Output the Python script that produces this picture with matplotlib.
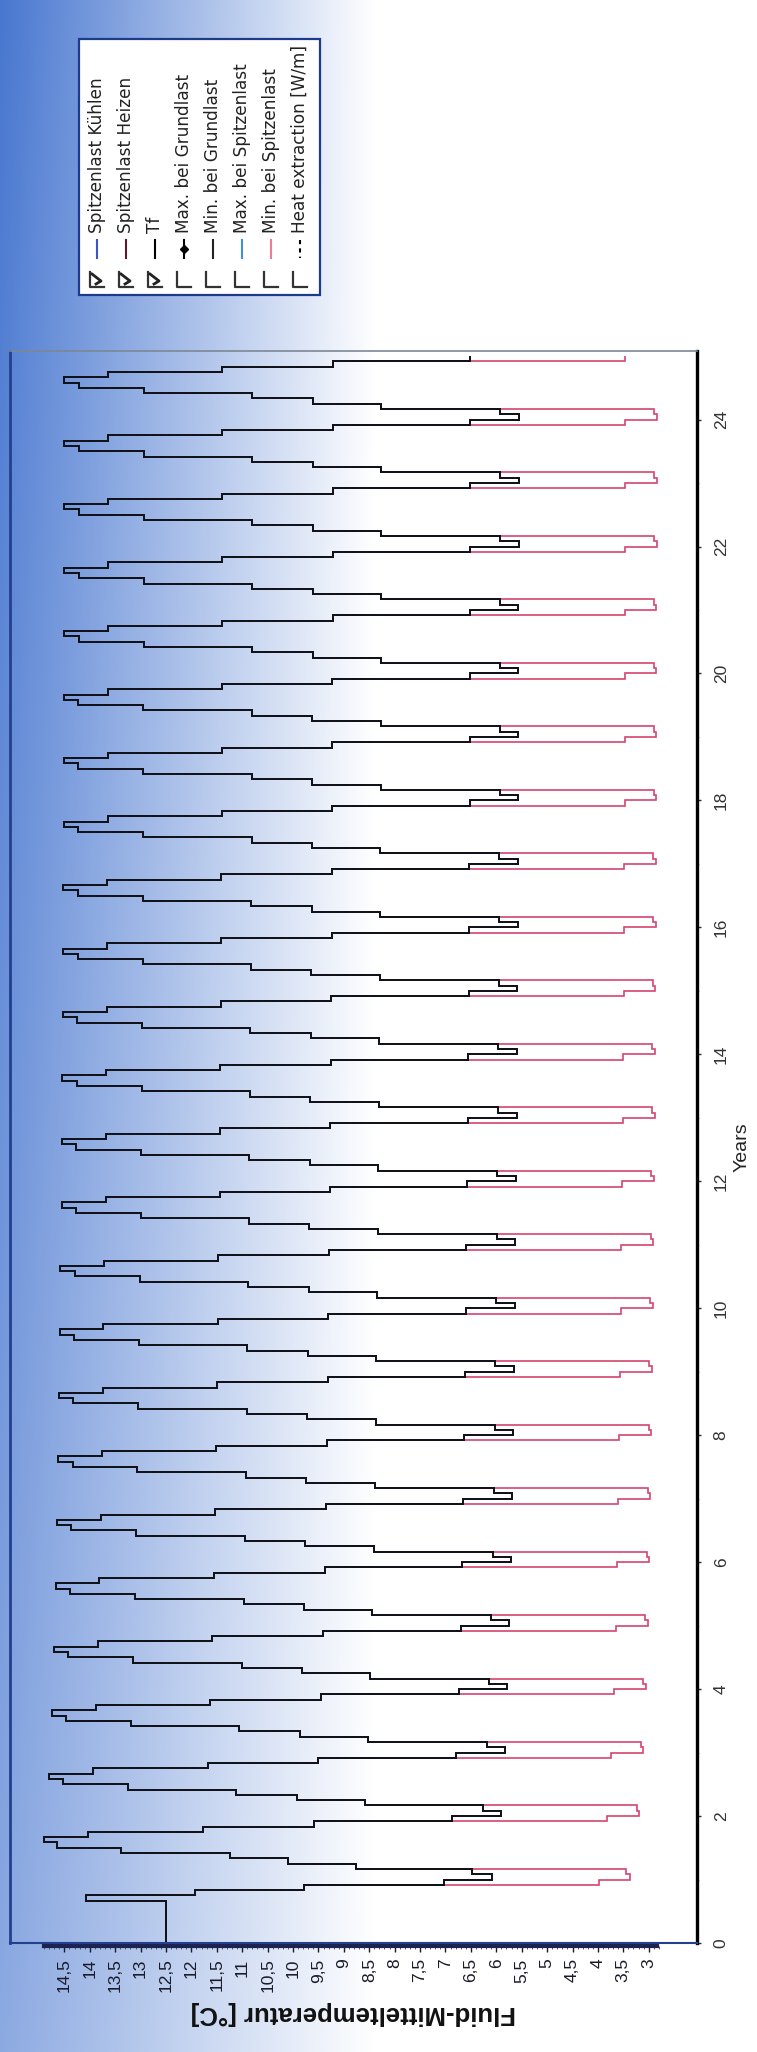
import numpy as np
import matplotlib
matplotlib.use('Agg')
import matplotlib.pyplot as plt
from matplotlib.lines import Line2D
from matplotlib.patches import Rectangle
from matplotlib.transforms import Affine2D

plt.rcParams['font.family'] = ['Liberation Sans', 'DejaVu Sans']

# monthly mean fluid temperature Tf, one list per month of the simulation year, years 1..25
tf_month1 = [12.5, 6.08, 5.91, 5.83, 5.78, 5.74, 5.71, 5.69, 5.67, 5.66, 5.64, 5.63, 5.62,
             5.60, 5.60, 5.59, 5.58, 5.58, 5.57, 5.57, 5.57, 5.57, 5.56, 5.56, 5.56]
tf_month2 = [12.5, 6.47, 6.26, 6.19, 6.14, 6.10, 6.07, 6.05, 6.03, 6.02, 6.00, 5.99, 5.98,
             5.96, 5.96, 5.95, 5.94, 5.94, 5.93, 5.93, 5.93, 5.92, 5.92, 5.92, 5.92]
tf_month3 = [12.5, 8.77, 8.59, 8.52, 8.48, 8.44, 8.41, 8.39, 8.37, 8.36, 8.34, 8.33, 8.32,
             8.30, 8.30, 8.29, 8.28, 8.28, 8.27, 8.27, 8.27, 8.26, 8.26, 8.26, 8.26]
tf_month4 = [12.5, 10.09, 9.93, 9.87, 9.82, 9.78, 9.76, 9.74, 9.72, 9.71, 9.69, 9.68, 9.67,
             9.66, 9.65, 9.64, 9.63, 9.62, 9.62, 9.62, 9.61, 9.61, 9.61, 9.61, 9.61]
tf_month5 = [12.5, 11.25, 11.12, 11.06, 11.01, 10.97, 10.95, 10.93, 10.91, 10.90, 10.88, 10.87, 10.86,
             10.85, 10.84, 10.82, 10.82, 10.81, 10.81, 10.81, 10.80, 10.80, 10.80, 10.80, 10.80]
tf_month6 = [12.5, 13.38, 13.25, 13.19, 13.15, 13.11, 13.09, 13.07, 13.05, 13.03, 13.02, 12.99, 13.00,
             12.98, 12.97, 12.96, 12.96, 12.95, 12.95, 12.95, 12.94, 12.94, 12.94, 12.94, 12.94]
tf_month7 = [12.5, 14.64, 14.53, 14.47, 14.43, 14.39, 14.37, 14.34, 14.33, 14.31, 14.30, 14.27, 14.28,
             14.26, 14.25, 14.24, 14.24, 14.23, 14.23, 14.23, 14.22, 14.22, 14.22, 14.22, 14.22]
tf_month8 = [12.5, 14.90, 14.80, 14.75, 14.70, 14.67, 14.64, 14.62, 14.60, 14.59, 14.58, 14.54, 14.55,
             14.54, 14.53, 14.52, 14.52, 14.51, 14.51, 14.51, 14.50, 14.50, 14.50, 14.50, 14.50]
tf_month9 = [14.08, 14.03, 13.94, 13.88, 13.84, 13.81, 13.78, 13.76, 13.74, 13.73, 13.72, 13.68, 13.69,
             13.68, 13.67, 13.66, 13.66, 13.65, 13.65, 13.65, 13.64, 13.64, 13.64, 13.64, 13.64]
tf_month10 = [11.93, 11.77, 11.68, 11.63, 11.59, 11.56, 11.53, 11.51, 11.49, 11.48, 11.47, 11.44, 11.44,
              11.43, 11.42, 11.41, 11.41, 11.40, 11.40, 11.40, 11.39, 11.39, 11.39, 11.39, 11.39]
tf_month11 = [9.79, 9.59, 9.51, 9.45, 9.42, 9.38, 9.36, 9.34, 9.32, 9.31, 9.30, 9.28, 9.27,
              9.26, 9.25, 9.24, 9.24, 9.23, 9.23, 9.23, 9.22, 9.22, 9.22, 9.22, 9.22]
tf_month12 = [7.03, 6.87, 6.79, 6.74, 6.70, 6.67, 6.65, 6.63, 6.61, 6.60, 6.59, 6.57, 6.56,
              6.55, 6.54, 6.53, 6.53, 6.52, 6.52, 6.52, 6.51, 6.51, 6.51, 6.51, 6.51]

# Spitzenlast Heizen: peak-load temperatures in the three heating months
heiz_month1 = [12.5, 3.36, 3.19, 3.11, 3.06, 3.02, 2.99, 2.97, 2.95, 2.94, 2.92, 2.91, 2.90,
               2.88, 2.88, 2.87, 2.86, 2.86, 2.85, 2.85, 2.85, 2.85, 2.84, 2.84, 2.84]
heiz_month2 = [12.5, 3.44, 3.23, 3.16, 3.11, 3.07, 3.04, 3.02, 3.00, 2.99, 2.97, 2.96, 2.95,
               2.93, 2.93, 2.92, 2.91, 2.91, 2.90, 2.90, 2.90, 2.89, 2.89, 2.89, 2.89]
heiz_month12 = [3.98, 3.82, 3.74, 3.69, 3.65, 3.62, 3.60, 3.58, 3.56, 3.55, 3.54, 3.52, 3.51,
                3.50, 3.49, 3.48, 3.48, 3.47, 3.47, 3.47, 3.46, 3.46, 3.46, 3.46, 3.46]

temp_ticks = [14.5, 14, 13.5, 13, 12.5, 12, 11.5, 11, 10.5, 10, 9.5, 9, 8.5, 8, 7.5, 7,
              6.5, 6, 5.5, 5, 4.5, 4, 3.5, 3]
year_ticks = [0, 2, 4, 6, 8, 10, 12, 14, 16, 18, 20, 22, 24]

legend_names = ['Spitzenlast Kühlen', 'Spitzenlast Heizen', 'Tf', 'Max. bei Grundlast',
                'Min. bei Grundlast', 'Max. bei Spitzenlast', 'Min. bei Spitzenlast',
                'Heat extraction [W/m]']
legend_checked = [True, True, True, False, False, False, False, False]
legend_colors = ['#3a55c8', '#5c1a2c', '#000000', '#000000', '#222222', '#3d8fd8', '#f07a9c', '#000000']

# build the monthly series (year-major)
tf = np.column_stack([tf_month1, tf_month2, tf_month3, tf_month4, tf_month5, tf_month6,
                      tf_month7, tf_month8, tf_month9, tf_month10, tf_month11, tf_month12]).ravel()
heiz = np.column_stack([heiz_month1, heiz_month2, tf_month3, tf_month4, tf_month5, tf_month6,
                        tf_month7, tf_month8, tf_month9, tf_month10, tf_month11, heiz_month12]).ravel()
kuehl = tf.copy()
edges = np.arange(len(tf) + 1) / 12.0

W, H = 757, 2052
fig = plt.figure(figsize=(W / 100, H / 100), dpi=100)

# background gradient (blue on the left fading to white)
bg = fig.add_axes([0, 0, 1, 1], zorder=-10)
px = np.arange(W)
py = np.arange(H)
wx = np.clip(1 - px / 375.0, 0, 1)
vy = 0.58 + 0.34 * (1 - py / H)
alpha = vy[:, None] * wx[None, :]
blue = np.array([0.22, 0.42, 0.80])
img = 1 - alpha[..., None] * (1 - blue)
bg.imshow(img, aspect='auto', extent=(0, 1, 0, 1), origin='upper')
bg.axis('off')

# main chart (drawn turned by 90 degrees: temperature horizontal, years vertical)
ax = fig.add_axes([10 / W, 1 - 1943 / H, 687 / W, (1943 - 351) / H])
ax.patch.set_alpha(0)

# spines first (set_position resets the ticks)
ax.spines['bottom'].set_position(('outward', 2))
ax.spines['bottom'].set_bounds(2.83, 14.9)
ax.spines['bottom'].set_linewidth(3)
ax.spines['bottom'].set_color('#1c2350')
ax.spines['left'].set_color('#23408e')
ax.spines['left'].set_linewidth(2)
ax.spines['right'].set_color('#000000')
ax.spines['right'].set_linewidth(2.4)
ax.spines['top'].set_color('#7d8795')
ax.spines['top'].set_linewidth(1.2)
ax.plot([0, 1], [0, 0], transform=ax.transAxes, color='#23408e', lw=1.5, clip_on=False, zorder=4)

ax.stairs(heiz, edges, orientation='horizontal', baseline=None, color='#d4466e', lw=1.2, zorder=2)
ax.stairs(kuehl, edges, orientation='horizontal', baseline=None, color='#2a3f9a', lw=1.3, zorder=2.5)
ax.stairs(tf, edges, orientation='horizontal', baseline=None, color='#111118', lw=1.4, zorder=3)

ax.set_xlim(15.57, 2.05)
ax.set_ylim(0, 25.08)

ax.set_xticks(temp_ticks, [f'{v:g}'.replace('.', ',') for v in temp_ticks])
ax.set_xticks(np.arange(2.8, 14.95, 0.1), minor=True)
ax.tick_params(axis='x', which='major', direction='out', length=4, width=1, pad=5,
               labelsize=12.5, colors='#1a1a2a', labelrotation=90)
ax.tick_params(axis='x', which='minor', direction='out', length=2, width=0.7, colors='#555566')

ax.yaxis.tick_right()
ax.set_yticks(year_ticks, [str(v) for v in year_ticks])
ax.set_yticks(np.arange(0, 25, 1), minor=True)
ax.tick_params(axis='y', which='major', direction='out', length=3, width=1, pad=9,
               labelsize=12.5, colors='#333333', labelrotation=90)
ax.tick_params(axis='y', which='minor', length=1.5, width=0.6, colors='#888888')
for lbl in ax.get_yticklabels():
    lbl.set_verticalalignment('center')

fig.text(353 / W, 1 - 2013 / H, 'Fluid-Mitteltemperatur [°C]', rotation=180, ha='center',
         va='center', fontsize=18.5, fontweight='bold', color='#111111')
fig.text(742 / W, 1 - 1147 / H, 'Years', rotation=90, ha='center', va='center',
         fontsize=14, color='#222222')

# legend with check boxes (pixel coordinates, origin top-left)
pix = Affine2D().scale(1 / W, -1 / H).translate(0, 1) + fig.transFigure
fig.add_artist(Rectangle((79, 39), 241, 256, transform=pix, facecolor='white',
                         edgecolor='#1e3a8a', lw=1.6, zorder=5))
for i, (name, checked, col) in enumerate(zip(legend_names, legend_checked, legend_colors)):
    x = 97 + i * 29
    fig.add_artist(Line2D([x - 7, x - 7, x + 7], [272, 287, 287], transform=pix,
                          color='#333333', lw=1.6, zorder=6))
    if checked:
        fig.add_artist(Line2D([x - 1, x + 4, x - 5], [284, 281, 274], transform=pix,
                              color='#222222', lw=2, zorder=6))
    ls = (0, (2, 2)) if name.startswith('Heat') else '-'
    fig.add_artist(Line2D([x, x], [240, 258], transform=pix, color=col, lw=1.5, ls=ls, zorder=6))
    if name == 'Max. bei Grundlast':
        fig.add_artist(Line2D([x], [249], transform=pix, color=col, marker='D', ms=4, zorder=6))
    fig.text(x, 233, name, transform=pix, rotation=90, rotation_mode='anchor', ha='left',
             va='center', fontsize=12.2, family=['DejaVu Sans'], color='#222222', zorder=6)

fig.savefig('out.png', dpi=100)
